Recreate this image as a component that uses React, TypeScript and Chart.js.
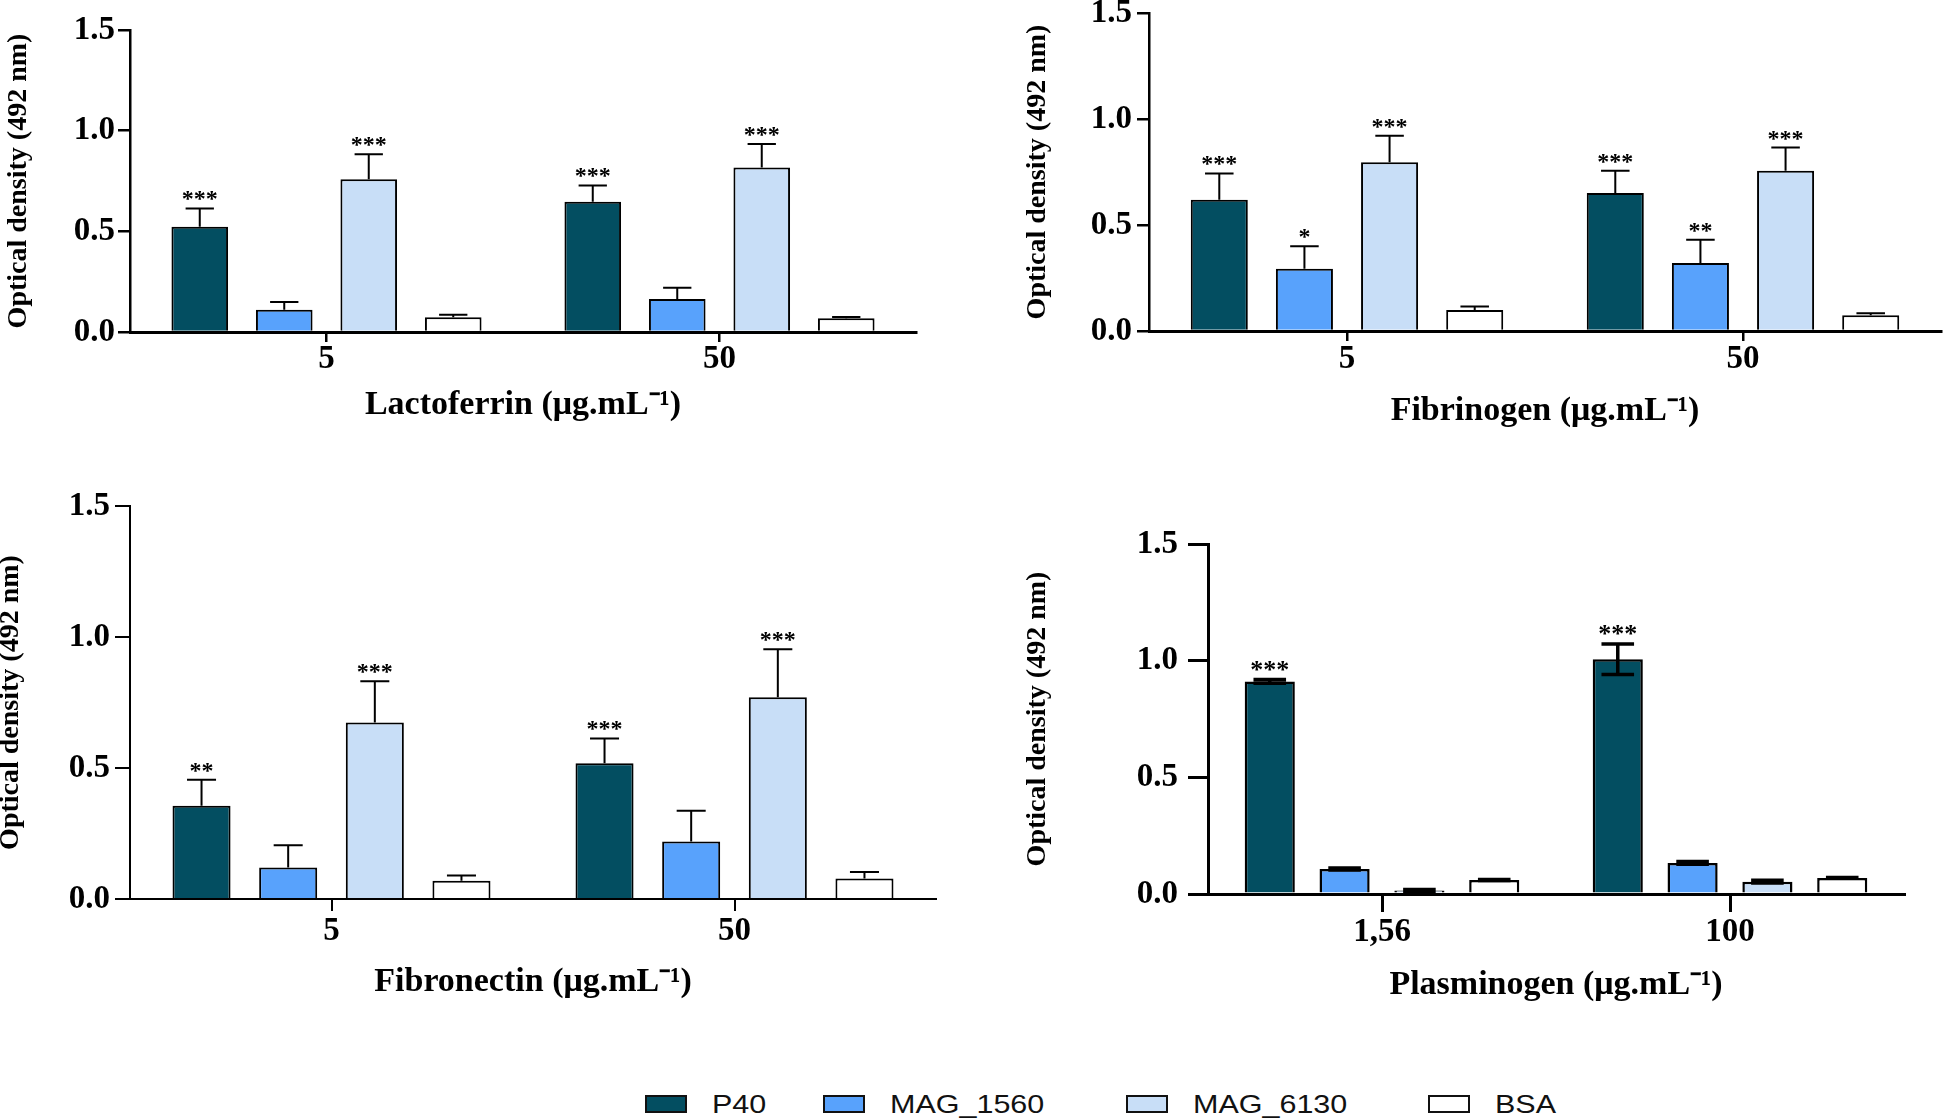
import { useEffect, useRef } from 'react';
import { Chart, registerables } from 'chart.js';

Chart.register(...registerables);

// ---------- data ----------
const SERIES = ['P40', 'MAG_1560', 'MAG_6130', 'BSA'];
const SERIES_COLORS = ['#034E61', '#58A2FC', '#C8DEF7', '#FFFFFF'];
const Y_AXIS_TITLE = 'Optical density (492 nm)';

// Lactoferrin
const LACTO_TITLE = 'Lactoferrin (\u03BCg.mL\u207B\u00B9)';
const LACTO_LABELS = ['5', '50'];
const LACTO_P40 = [0.523, 0.647];
const LACTO_MAG1560 = [0.111, 0.164];
const LACTO_MAG6130 = [0.759, 0.817];
const LACTO_BSA = [0.073, 0.068];
const LACTO_P40_SEM = [0.091, 0.081];
const LACTO_MAG1560_SEM = [0.038, 0.056];
const LACTO_MAG6130_SEM = [0.124, 0.117];
const LACTO_BSA_SEM = [0.013, 0.006];
const LACTO_STARS = [['***', '***'], ['', ''], ['***', '***'], ['', '']];

// Fibrinogen
const FIBG_TITLE = 'Fibrinogen (\u03BCg.mL\u207B\u00B9)';
const FIBG_LABELS = ['5', '50'];
const FIBG_P40 = [0.619, 0.651];
const FIBG_MAG1560 = [0.294, 0.321];
const FIBG_MAG6130 = [0.796, 0.756];
const FIBG_BSA = [0.099, 0.074];
const FIBG_P40_SEM = [0.124, 0.105];
const FIBG_MAG1560_SEM = [0.106, 0.109];
const FIBG_MAG6130_SEM = [0.125, 0.109];
const FIBG_BSA_SEM = [0.016, 0.010];
const FIBG_STARS = [['***', '***'], ['*', '**'], ['***', '***'], ['', '']];

// Fibronectin
const FIBN_TITLE = 'Fibronectin (\u03BCg.mL\u207B\u00B9)';
const FIBN_LABELS = ['5', '50'];
const FIBN_P40 = [0.356, 0.518];
const FIBN_MAG1560 = [0.120, 0.219];
const FIBN_MAG6130 = [0.674, 0.770];
const FIBN_BSA = [0.070, 0.078];
const FIBN_P40_SEM = [0.099, 0.095];
const FIBN_MAG1560_SEM = [0.085, 0.118];
const FIBN_MAG6130_SEM = [0.157, 0.183];
const FIBN_BSA_SEM = [0.020, 0.025];
const FIBN_STARS = [['**', '***'], ['', ''], ['***', '***'], ['', '']];

// Plasminogen
const PLAS_TITLE = 'Plasminogen (\u03BCg.mL\u207B\u00B9)';
const PLAS_LABELS = ['1,56', '100'];
const PLAS_P40 = [0.911, 1.006];
const PLAS_MAG1560 = [0.107, 0.133];
const PLAS_MAG6130 = [0.015, 0.053];
const PLAS_BSA = [0.060, 0.069];
const PLAS_P40_SEM = [0.008, 0.065];
const PLAS_MAG1560_SEM = [0.004, 0.006];
const PLAS_MAG6130_SEM = [0.004, 0.006];
const PLAS_BSA_SEM = [0.002, 0.002];
const PLAS_STARS = [['***', '***'], ['', ''], ['', ''], ['', '']];

const Y_MIN = 0;
const Y_MAX = 1.5;
const Y_STEP = 0.5;

// ---------- layout / style ----------
const SERIF = '"Liberation Serif", "Times New Roman", serif';
const SANS = '"Liberation Sans", Arial, sans-serif';

const PANELS = [
  {
    title: LACTO_TITLE, labels: LACTO_LABELS,
    values: [LACTO_P40, LACTO_MAG1560, LACTO_MAG6130, LACTO_BSA],
    sem: [LACTO_P40_SEM, LACTO_MAG1560_SEM, LACTO_MAG6130_SEM, LACTO_BSA_SEM],
    stars: LACTO_STARS,
  },
  {
    title: FIBG_TITLE, labels: FIBG_LABELS,
    values: [FIBG_P40, FIBG_MAG1560, FIBG_MAG6130, FIBG_BSA],
    sem: [FIBG_P40_SEM, FIBG_MAG1560_SEM, FIBG_MAG6130_SEM, FIBG_BSA_SEM],
    stars: FIBG_STARS,
  },
  {
    title: FIBN_TITLE, labels: FIBN_LABELS,
    values: [FIBN_P40, FIBN_MAG1560, FIBN_MAG6130, FIBN_BSA],
    sem: [FIBN_P40_SEM, FIBN_MAG1560_SEM, FIBN_MAG6130_SEM, FIBN_BSA_SEM],
    stars: FIBN_STARS,
  },
  {
    title: PLAS_TITLE, labels: PLAS_LABELS,
    values: [PLAS_P40, PLAS_MAG1560, PLAS_MAG6130, PLAS_BSA],
    sem: [PLAS_P40_SEM, PLAS_MAG1560_SEM, PLAS_MAG6130_SEM, PLAS_BSA_SEM],
    stars: PLAS_STARS,
  },
];

const LAYOUT = [
  { x: 0, y: 0, w: 972, h: 440, L: 130, R: 916, T: 30, B: 332, yTick: 12, yPad: 3, xTick: 10, xPad: 0.5,
    yTitleMid: 18.5, xTitleMid: 405, xAxisW: 3, yAxisW: 2.5, barBorder: 2, errW: 2, capRatio: 0.5, both: false, starSize: 24 },
  { x: 972, y: -10, w: 972, h: 450, L: 1149, R: 1941, T: 13, B: 331, yTick: 12, yPad: 5, xTick: 10, xPad: 1.5,
    yTitleMid: 1037.5, xTitleMid: 411, xAxisW: 3, yAxisW: 2.5, barBorder: 2, errW: 2, capRatio: 0.5, both: false, starSize: 24 },
  { x: 0, y: 470, w: 972, h: 540, L: 130, R: 936, T: 506, B: 899, yTick: 15, yPad: 5, xTick: 12, xPad: 3.5,
    yTitleMid: 11, xTitleMid: 982, xAxisW: 2, yAxisW: 2, barBorder: 2, errW: 2, capRatio: 0.5, both: false, starSize: 24 },
  { x: 972, y: 470, w: 972, h: 540, L: 1208, R: 1904, T: 544, B: 894, yTick: 20, yPad: 10, xTick: 18, xPad: 3.5,
    yTitleMid: 1037.5, xTitleMid: 985, xAxisW: 3, yAxisW: 3, barBorder: 2.5, errW: 3.5, capRatio: 0.65, both: true, starSize: 26 },
];

const TICK_FONT = 33;
const X_TITLE_FONT = 34;
const Y_TITLE_FONT = 28;

const LEGEND_LEFT = [645, 823, 1126, 1428];
const LEGEND_TOP = 1095;

type Panel = typeof PANELS[number];
type Lay = typeof LAYOUT[number];

function errorPlugin(p: Panel, l: Lay) {
  return {
    id: 'errorBarsAndStars',
    afterDatasetsDraw(chart: any) {
      const ctx = chart.ctx as CanvasRenderingContext2D;
      const ys = chart.scales.y;
      ctx.save();
      chart.data.datasets.forEach((_ds: any, di: number) => {
        const meta = chart.getDatasetMeta(di);
        meta.data.forEach((bar: any, j: number) => {
          const { x, width } = bar.getProps(['x', 'width'], true);
          const v = p.values[di][j];
          const e = p.sem[di][j];
          const top = ys.getPixelForValue(v + e);
          const mid = ys.getPixelForValue(v);
          const bot = l.both ? ys.getPixelForValue(Math.max(v - e, 0)) : mid;
          const cap = width * l.capRatio;
          ctx.strokeStyle = '#000';
          ctx.lineWidth = l.errW;
          ctx.lineCap = 'butt';
          ctx.beginPath();
          ctx.moveTo(x, bot);
          ctx.lineTo(x, top);
          ctx.moveTo(x - cap / 2, top);
          ctx.lineTo(x + cap / 2, top);
          if (l.both) {
            ctx.moveTo(x - cap / 2, bot);
            ctx.lineTo(x + cap / 2, bot);
          }
          ctx.stroke();
          const s = p.stars[di][j];
          if (s) {
            ctx.fillStyle = '#000';
            ctx.font = `bold ${l.starSize}px ${SERIF}`;
            ctx.textAlign = 'center';
            ctx.textBaseline = 'alphabetic';
            ctx.fillText(s, x, top - 2);
          }
        });
      });
      ctx.restore();
    },
  };
}

function buildConfig(p: Panel, l: Lay): any {
  const yTitleLh = Y_TITLE_FONT;
  const xTitleLh = X_TITLE_FONT;
  return {
    type: 'bar',
    data: {
      labels: p.labels,
      datasets: SERIES.map((name, i) => ({
        label: name,
        data: p.values[i],
        backgroundColor: SERIES_COLORS[i],
        borderColor: '#000',
        borderWidth: l.barBorder,
        categoryPercentage: 0.86,
        barPercentage: 0.67,
      })),
    },
    options: {
      responsive: false,
      maintainAspectRatio: false,
      animation: false,
      devicePixelRatio: 1,
      layout: {
        padding: { top: l.T - l.y, right: l.x + l.w - l.R, left: 0, bottom: 0 },
      },
      plugins: {
        legend: { display: false },
        tooltip: { enabled: false },
      },
      scales: {
        x: {
          offset: true,
          grid: {
            display: true, drawOnChartArea: false, drawTicks: true, offset: false,
            tickLength: l.xTick, color: '#000', lineWidth: l.yAxisW,
          },
          border: { display: true, color: '#000', width: l.xAxisW },
          ticks: {
            color: '#000', padding: l.xPad, autoSkip: false, maxRotation: 0,
            font: { family: SERIF, size: TICK_FONT, weight: 'bold', lineHeight: 1 },
          },
          title: {
            display: true, text: p.title, color: '#000',
            font: { family: SERIF, size: X_TITLE_FONT, weight: 'bold', lineHeight: 1 },
            padding: { top: 0, bottom: l.y + l.h - l.xTitleMid - xTitleLh / 2 },
          },
          afterFit: (s: any) => { s.height = l.y + l.h - l.B; },
        },
        y: {
          min: Y_MIN, max: Y_MAX,
          grid: {
            display: true, drawOnChartArea: false, drawTicks: true,
            tickLength: l.yTick, color: '#000', lineWidth: l.yAxisW,
          },
          border: { display: true, color: '#000', width: l.yAxisW },
          ticks: {
            stepSize: Y_STEP, color: '#000', padding: l.yPad,
            callback: (v: any) => Number(v).toFixed(1),
            font: { family: SERIF, size: TICK_FONT, weight: 'bold', lineHeight: 1 },
          },
          title: {
            display: true, text: Y_AXIS_TITLE, color: '#000',
            font: { family: SERIF, size: Y_TITLE_FONT, weight: 'bold', lineHeight: 1 },
            padding: { top: l.yTitleMid - l.x - yTitleLh / 2, bottom: 0 },
          },
          afterFit: (s: any) => { s.width = l.L - l.x; },
        },
      },
    },
    plugins: [errorPlugin(p, l)],
  };
}

export default function App() {
  const r0 = useRef<HTMLCanvasElement>(null);
  const r1 = useRef<HTMLCanvasElement>(null);
  const r2 = useRef<HTMLCanvasElement>(null);
  const r3 = useRef<HTMLCanvasElement>(null);
  const refs = [r0, r1, r2, r3];

  useEffect(() => {
    const charts = PANELS.map((p, i) => new Chart(refs[i].current as HTMLCanvasElement, buildConfig(p, LAYOUT[i])));
    return () => charts.forEach((c) => c.destroy());
  }, []);

  return (
    <div style={{ position: 'absolute', left: 0, top: 0, width: 1944, height: 1120, background: '#fff', overflow: 'hidden' }}>
      {LAYOUT.map((l, i) => (
        <canvas
          key={i}
          ref={refs[i]}
          width={l.w}
          height={l.h}
          style={{ position: 'absolute', left: l.x, top: l.y, width: l.w, height: l.h }}
        />
      ))}
      {SERIES.map((name, i) => (
        <div
          key={name}
          style={{ position: 'absolute', left: LEGEND_LEFT[i], top: LEGEND_TOP, height: 18, display: 'flex', alignItems: 'center' }}
        >
          <div style={{ width: 42, height: 18, boxSizing: 'border-box', border: '2px solid #111', background: SERIES_COLORS[i] }} />
          <span
            style={{
              marginLeft: 25, fontFamily: SANS, fontSize: 25, lineHeight: '18px', color: '#111',
              display: 'inline-block', transform: 'scaleX(1.22)', transformOrigin: 'left center', whiteSpace: 'nowrap',
            }}
          >
            {name}
          </span>
        </div>
      ))}
    </div>
  );
}
